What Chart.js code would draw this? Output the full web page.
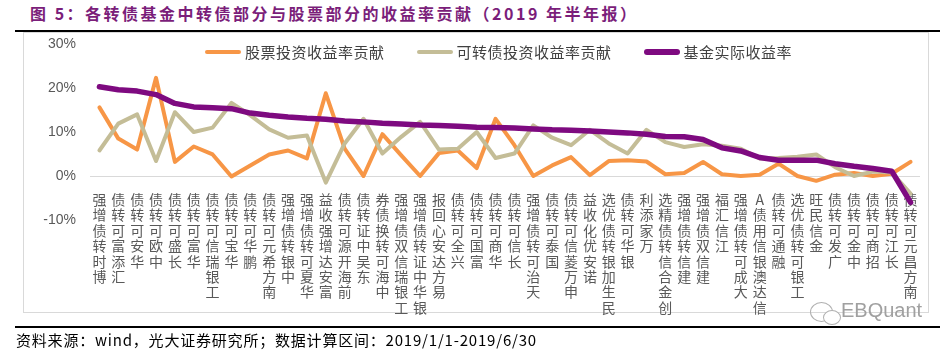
<!DOCTYPE html>
<html lang="zh-CN">
<head>
<meta charset="utf-8">
<title>各转债基金中转债部分与股票部分的收益率贡献</title>
<script src="https://cdn.jsdelivr.net/npm/chart.js@4.4.1/dist/chart.umd.min.js"></script>
<style>
  html, body { margin: 0; padding: 0; background: #fff; }
  #page {
    position: relative; width: 951px; height: 354px; overflow: hidden;
    font-family: "Noto Sans CJK SC", sans-serif;
  }
  #page canvas { position: absolute; left: 0; top: 0; }
  .title {
    position: absolute; left: 30px; top: 1px; white-space: nowrap;
    font-size: 16px; font-weight: bold; color: #7b1e7a; letter-spacing: 2.5px;
  }
  .rule { position: absolute; left: 15px; width: 925px; height: 2px; background: #000; }
  .frame { position: absolute; left: 23px; top: 32px; width: 904px; height: 279px; border: 1px solid #d9d9d9; }
  #legend {
    position: absolute; left: 205px; top: 42px; display: flex; gap: 32px;
    font-size: 15px; line-height: 20px; color: #404040; letter-spacing: 0.5px; white-space: nowrap;
  }
  #legend .item { display: flex; align-items: center; }
  #legend .swatch { display: inline-block; width: 36px; border-radius: 3px; margin-right: 4px; }
  .source {
    position: absolute; left: 16px; top: 330px; font-size: 15px; line-height: 20px; color: #000;
    letter-spacing: 0.8px; white-space: nowrap;
  }
  .mark { position: absolute; left: 841px; top: 299px; font-size: 20px; color: #a0a0a0; font-family: "Liberation Sans", sans-serif; }
  .bubble { position: absolute; border: 1.5px solid #b0b0b0; border-radius: 50%; }
</style>
</head>
<body>
<div id="page">
  <div class="title">图 5：各转债基金中转债部分与股票部分的收益率贡献（2019 年半年报）</div>
  <div class="rule" style="top:30px"></div>
  <div class="frame"></div>
  <canvas id="chart" width="951" height="354"></canvas>
  <div id="legend"></div>
  <div class="bubble" style="left:810px;top:302px;width:21px;height:18px"></div>
  <div class="bubble" style="left:823px;top:310px;width:16px;height:13px;background:#fff"></div>
  <div class="mark">EBQuant</div>
  <div class="rule" style="top:326px"></div>
  <div class="source">资料来源：wind，光大证券研究所；数据计算区间：2019/1/1-2019/6/30</div>
</div>

<script>
// 基金名称（横轴）
const funds = [
  '博时转债增强', '汇添富可转债', '华安可转债', '中欧可转债', '长盛可转债',
  '华富可转债', '工银瑞信可转债', '华宝可转债', '鹏华可转债', '南方希元可转债',
  '中银转债增强', '华夏可转债增强', '富安达增强收益', '前海开源可转债', '东吴中证转债',
  '中海可转换债券', '工银瑞信双债增强', '银华中证转债增强', '易方达安心回报', '兴全可转债',
  '富国可转债', '华商可转债', '长信可转债', '天治可转债增强', '国泰可转债',
  '申万菱信可转债', '诺安优化收益', '民生加银转债优选', '银华可转债', '万家添利',
  '创金合信转债精选', '建信转债增强', '建信双债增强', '江信汇福', '大成可转债增强',
  '信达澳银信用债A', '融通可转债', '工银可转债优选', '金信民旺', '广发可转债',
  '中金可转债', '招商可转债', '长江可转债', '南方昌元可转债',
];

// 股票投资收益率贡献（%）
const stockContrib = [
  15.6, 8.5, 6.0, 22.3, 3.2, 6.7, 4.9, -0.1, 2.4, 4.9,
  5.8, 4.0, 18.8, 6.2, 0.0, 9.5, 4.7, 0.0, 5.2, 5.8,
  1.8, 13.0, 7.0, 0.0, 2.4, 4.3, 0.2, 3.4, 3.6, 3.3,
  0.4, 0.7, 3.2, 0.4, 0.0, 0.3, 2.8, 0.0, -1.1, 0.3,
  0.7, 0.0, 0.5, 3.2,
];

// 可转债投资收益率贡献（%）
const cbContrib = [
  5.8, 11.9, 14.0, 3.4, 14.5, 10.0, 11.0, 16.6, 13.8, 10.6,
  8.7, 9.2, -1.5, 7.4, 13.0, 5.1, 8.9, 12.3, 6.0, 6.2,
  10.0, 4.1, 5.1, 11.5, 8.7, 7.0, 10.5, 7.4, 5.1, 10.5,
  7.7, 6.6, 7.2, 6.9, 6.2, 4.0, 4.1, 4.4, 4.9, 2.0,
  0.0, 1.0, 0.8, -4.0,
];

// 基金实际收益率（%）
const fundReturn = [
  20.3, 19.6, 19.3, 18.5, 16.5, 15.7, 15.5, 15.3, 14.3, 13.8,
  13.4, 13.1, 12.9, 12.5, 12.3, 12.0, 11.8, 11.6, 11.5, 11.3,
  11.1, 11.0, 10.9, 10.7, 10.5, 10.4, 10.2, 10.0, 9.8, 9.5,
  9.0, 8.9, 8.3, 6.4, 5.7, 4.2, 3.6, 3.6, 3.6, 2.8,
  2.2, 1.7, 1.1, -6.0,
];

// 纵轴刻度
const yTicks = [-10, 0, 10, 20, 30];

const series = [
  { label: '股票投资收益率贡献', data: stockContrib, color: '#f79646', width: 4, order: 2 },
  { label: '可转债投资收益率贡献', data: cbContrib, color: '#c4bd97', width: 4, order: 1 },
  { label: '基金实际收益率', data: fundReturn, color: '#7e0a80', width: 5.5, order: 0 },
];

const cjk = '"Noto Sans CJK SC", sans-serif';
const grey = '#595959';

// 图例放在绘图区内部，用 HTML 画
const legendBox = document.getElementById('legend');
series.forEach((s) => {
  const item = document.createElement('span');
  item.className = 'item';
  item.innerHTML = `<span class="swatch" style="background:${s.color};height:${s.width}px"></span>${s.label}`;
  legendBox.appendChild(item);
});

new Chart(document.getElementById('chart'), {
  type: 'line',
  data: {
    labels: funds,
    datasets: series.map((s) => ({
      label: s.label,
      data: s.data,
      borderColor: s.color,
      backgroundColor: s.color,
      borderWidth: s.width,
      order: s.order,
      pointRadius: 0,
      tension: 0,
      fill: false,
      borderCapStyle: 'round',
      borderJoinStyle: 'round',
    })),
  },
  options: {
    responsive: false,
    animation: false,
    devicePixelRatio: 1,
    layout: { padding: { left: 0, right: 31, top: 44, bottom: 134 } },
    plugins: { legend: { display: false }, tooltip: { enabled: false } },
    scales: {
      x: {
        position: { y: 0 },
        offset: true,
        grid: { display: false },
        border: { display: false },
        ticks: {
          autoSkip: false,
          maxRotation: 0,
          minRotation: 0,
          padding: 8,
          color: grey,
          font: { family: cjk, size: 14, lineHeight: 1.1 },
          // 竖排文字，自下而上读
          callback: (v, i) => funds[i].split('').reverse(),
        },
        // 标签画在 0 轴下方，不占底部空间
        afterFit: (scale) => { scale.height = 0; },
      },
      y: {
        min: yTicks[0],
        max: yTicks[yTicks.length - 1],
        afterBuildTicks: (scale) => { scale.ticks = yTicks.map((v) => ({ value: v })); },
        grid: {
          drawTicks: false,
          color: (ctx) => (ctx.tick && ctx.tick.value === 0 ? '#d9d9d9' : 'rgba(0,0,0,0)'),
        },
        border: { display: false },
        ticks: {
          padding: 14,
          color: grey,
          font: { family: '"Liberation Sans", sans-serif', size: 14 },
          callback: (v) => v + '%',
        },
        afterFit: (scale) => { scale.width = 90; },
      },
    },
  },
});
</script>
</body>
</html>
